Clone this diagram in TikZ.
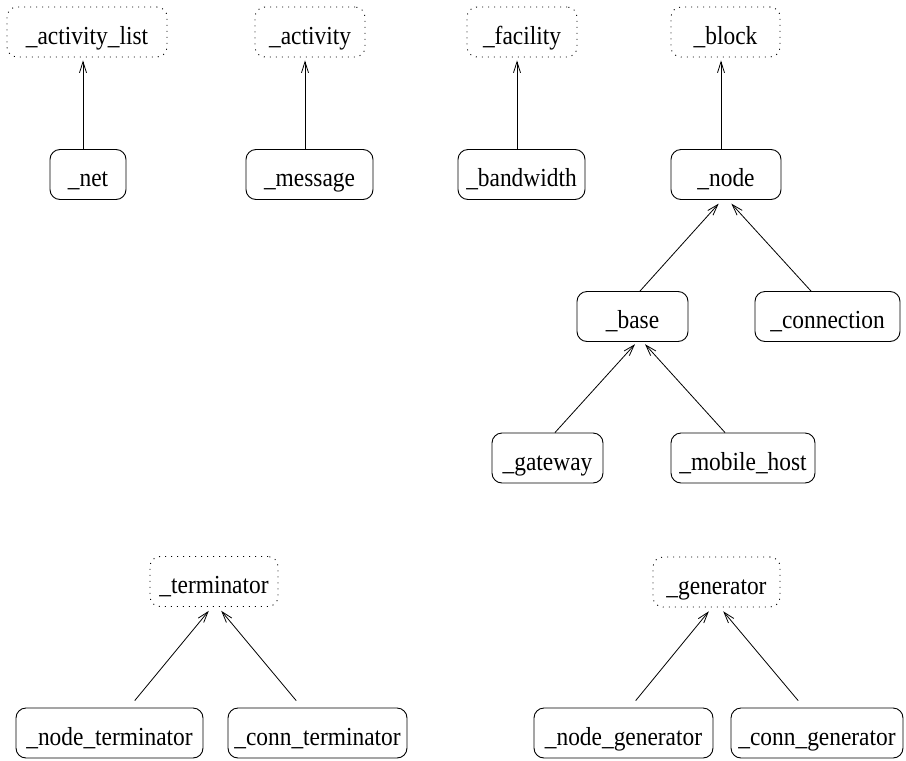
\documentclass[tikz,border=0pt]{standalone}
\usepackage{fontspec}
\setmainfont{Liberation Serif}[FakeStretch=0.9]
\usetikzlibrary{arrows.meta}
\begin{document}
\begin{tikzpicture}[x=1pt,y=-1pt,
  box/.style={draw, rounded corners=10pt, minimum height=50pt, inner sep=0pt,
    line width=0.9pt, font=\fontsize{26}{30}\selectfont, text height=24pt, text depth=0pt},
  abstractbox/.style={box, dash pattern=on 1pt off 5pt},
  inherit/.style={line width=0.8pt, -{Straight Barb[length=11pt,width=7pt,line width=0.8pt]}}]
\useasboundingbox (0,0) rectangle (906,761);

% abstract base classes (top row)
\node[abstractbox, minimum width=160pt] (actlist)  at (87,32)    {\_activity\_list};
\node[abstractbox, minimum width=110pt] (activity) at (310,32)   {\_activity};
\node[abstractbox, minimum width=110pt] (facility) at (522,32)   {\_facility};
\node[abstractbox, minimum width=109pt] (block)    at (725.5,32) {\_block};

% derived classes
\node[box, minimum width=76pt]  (net)       at (88,174.5)    {\_net};
\node[box, minimum width=127pt] (message)   at (309.5,174.5) {\_message};
\node[box, minimum width=127pt] (bandwidth) at (521.5,174.5) {\_bandwidth};
\node[box, minimum width=110pt] (node)      at (726,174.5)   {\_node};

\node[box, minimum width=111pt] (base)       at (632.5,316.5) {\_base};
\node[box, minimum width=145pt] (connection) at (827.5,316.5) {\_connection};

\node[box, minimum width=111pt] (gateway) at (547.5,458) {\_gateway};
\node[box, minimum width=144pt] (mobile)  at (743,458)   {\_mobile\_host};

% terminators and generators
\node[abstractbox, minimum width=128pt] (term) at (214,581.5)  {\_terminator};
\node[abstractbox, minimum width=127pt] (gen)  at (716.5,582)  {\_generator};

\node[box, minimum width=187pt] (nodeterm) at (109.5,733) {\_node\_terminator};
\node[box, minimum width=179pt] (connterm) at (317.5,733) {\_conn\_terminator};
\node[box, minimum width=179pt] (nodegen)  at (623.5,733) {\_node\_generator};
\node[box, minimum width=172pt] (conngen)  at (817,733)   {\_conn\_generator};

% inheritance arrows
\draw[inherit, shorten >=3pt] ([xshift=-5pt]net.north) -- ([xshift=-4pt]actlist.south);
\draw[inherit, shorten >=3pt] ([xshift=-4.5pt]message.north) -- ([xshift=-5pt]activity.south);
\draw[inherit, shorten >=3pt] ([xshift=-4.5pt]bandwidth.north) -- ([xshift=-5pt]facility.south);
\draw[inherit, shorten >=3pt] ([xshift=-5pt]node.north) -- ([xshift=-4.5pt]block.south);

\draw[inherit, shorten >=5pt] ([xshift=7.5pt]base.north) -- ([xshift=-4pt]node.south);
\draw[inherit, shorten >=5pt] ([xshift=-16.5pt]connection.north) -- ([xshift=2pt]node.south);

\draw[inherit, shorten >=3pt] ([xshift=7.5pt]gateway.north) -- ([xshift=4.5pt]base.south);
\draw[inherit, shorten >=3pt] ([xshift=-18pt]mobile.north) -- ([xshift=10.5pt]base.south);

\draw[inherit, shorten <=9pt, shorten >=5pt] ([xshift=19.5pt]nodeterm.north) -- ([xshift=-2pt]term.south);
\draw[inherit, shorten <=9pt, shorten >=5pt] ([xshift=-15.5pt]connterm.north) -- ([xshift=4pt]term.south);

\draw[inherit, shorten <=9pt, shorten >=5pt] ([xshift=6.5pt]nodegen.north) -- ([xshift=-4.5pt]gen.south);
\draw[inherit, shorten <=9pt, shorten >=5pt] ([xshift=-13pt]conngen.north) -- ([xshift=3.5pt]gen.south);
\end{tikzpicture}
\end{document}
